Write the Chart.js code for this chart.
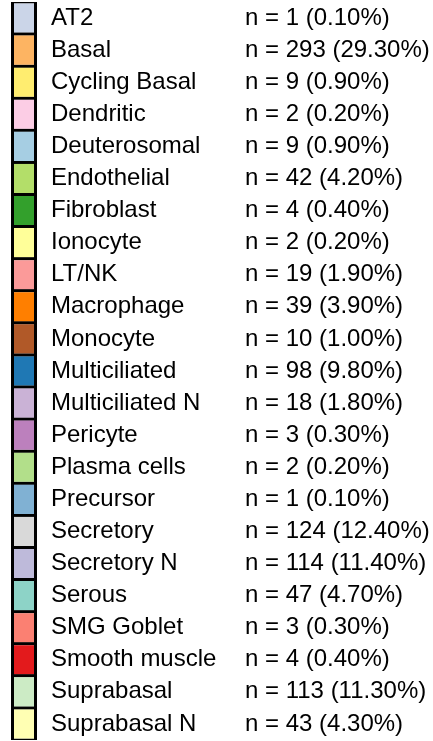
<!DOCTYPE html>
<html>
<head>
<meta charset="utf-8">
<script src="https://cdn.jsdelivr.net/npm/chart.js@4.4.1/dist/chart.umd.min.js"></script>
<style>
html,body{margin:0;padding:0;background:#fff;}
#wrap{width:433px;height:741px;position:relative;}
</style>
</head>
<body>
<div id="wrap"><canvas id="c" width="433" height="741"></canvas></div>
<script>
const categories = ["AT2","Basal","Cycling Basal","Dendritic","Deuterosomal","Endothelial","Fibroblast","Ionocyte","LT/NK","Macrophage","Monocyte","Multiciliated","Multiciliated N","Pericyte","Plasma cells","Precursor","Secretory","Secretory N","Serous","SMG Goblet","Smooth muscle","Suprabasal","Suprabasal N"];
const counts = [1,293,9,2,9,42,4,2,19,39,10,98,18,3,2,1,124,114,47,3,4,113,43];
const colors = ["#CBD5E8","#FDB462","#FFED6F","#FCCDE5","#A6CEE3","#B3DE69","#33A02C","#FFFF99","#FB9A99","#FF7F00","#B15928","#1F78B4","#CAB2D6","#BC80BD","#B2DF8A","#80B1D3","#D9D9D9","#BEBADA","#8DD3C7","#FB8072","#E31A1C","#CCEBC5","#FFFFB3"];
const total = counts.reduce((a,b)=>a+b,0);
const countLabels = counts.map(n => "n = " + n + " (" + (100*n/total).toFixed(2) + "%)");
const FONT = {family:"'Liberation Sans', Arial, sans-serif", size:24};

new Chart(document.getElementById('c'), {
  type:'bar',
  data:{
    labels:categories,
    datasets:[{
      data:categories.map(()=>[0,1]),
      backgroundColor:colors,
      borderColor:'#000',
      borderWidth:3,
      borderSkipped:false,
      barPercentage:1.094,
      categoryPercentage:1
    }]
  },
  options:{
    indexAxis:'y',
    responsive:false,
    animation:false,
    events:[],
    layout:{padding:{left:11,right:0,top:2,bottom:1}},
    plugins:{legend:{display:false},tooltip:{enabled:false}},
    scales:{
      x:{type:'linear',min:0,max:1,display:false},
      y:{type:'category',position:'right',offset:true,
         grid:{display:false,drawTicks:false},border:{display:false},
         ticks:{color:'#000',font:FONT,padding:14,autoSkip:false},
         afterFit:s=>{s.width=208;s.paddingTop=0;s.paddingBottom=0;}},
      y2:{type:'category',position:'right',labels:countLabels,offset:true,
         grid:{display:false,drawTicks:false},border:{display:false},
         ticks:{color:'#000',font:FONT,padding:0,autoSkip:false},
         afterFit:s=>{s.width=188;s.paddingTop=0;s.paddingBottom=0;}}
    }
  }
});
</script>
</body>
</html>
